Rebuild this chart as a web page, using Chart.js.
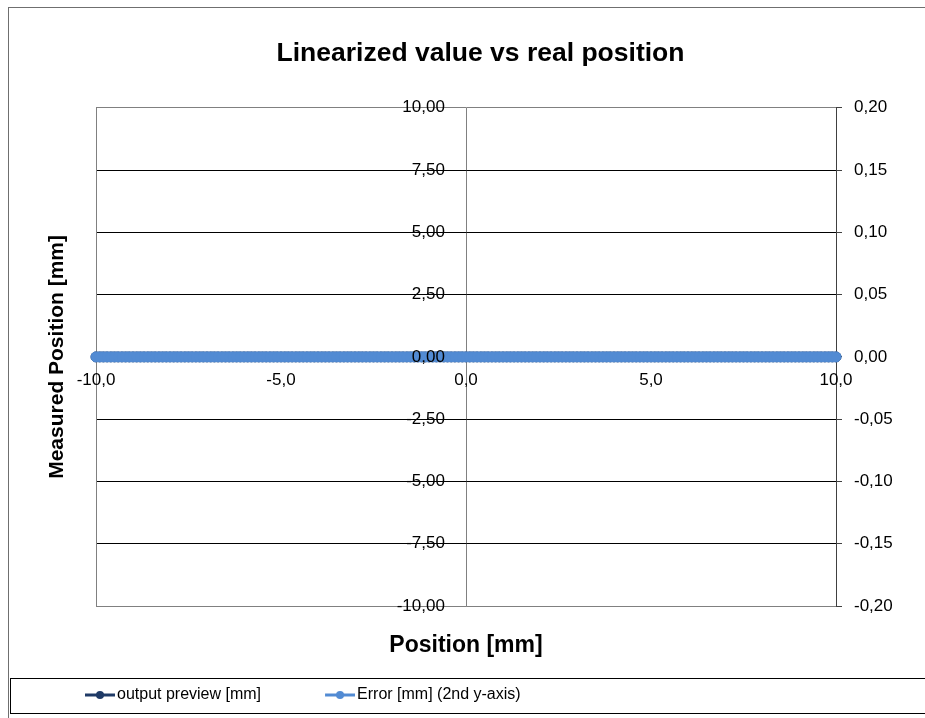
<!DOCTYPE html>
<html>
<head>
<meta charset="utf-8">
<title>Linearized value vs real position</title>
<script src="https://cdn.jsdelivr.net/npm/chart.js@4.4.1/dist/chart.umd.min.js"></script>
<style>
    html, body { margin: 0; padding: 0; background: #fff; overflow: hidden; }
    #wrap { width: 925px; height: 718px; overflow: hidden; }
    canvas { display: block; }
</style>
</head>
<body>
<div id="wrap"><canvas id="linChart" width="940" height="718"></canvas></div>
<script>
// real position [mm]
const positions = [
    -10.0, -9.9, -9.8, -9.7, -9.6, -9.5, -9.4, -9.3, -9.2, -9.1,
    -9.0, -8.9, -8.8, -8.7, -8.6, -8.5, -8.4, -8.3, -8.2, -8.1,
    -8.0, -7.9, -7.8, -7.7, -7.6, -7.5, -7.4, -7.3, -7.2, -7.1,
    -7.0, -6.9, -6.8, -6.7, -6.6, -6.5, -6.4, -6.3, -6.2, -6.1,
    -6.0, -5.9, -5.8, -5.7, -5.6, -5.5, -5.4, -5.3, -5.2, -5.1,
    -5.0, -4.9, -4.8, -4.7, -4.6, -4.5, -4.4, -4.3, -4.2, -4.1,
    -4.0, -3.9, -3.8, -3.7, -3.6, -3.5, -3.4, -3.3, -3.2, -3.1,
    -3.0, -2.9, -2.8, -2.7, -2.6, -2.5, -2.4, -2.3, -2.2, -2.1,
    -2.0, -1.9, -1.8, -1.7, -1.6, -1.5, -1.4, -1.3, -1.2, -1.1,
    -1.0, -0.9, -0.8, -0.7, -0.6, -0.5, -0.4, -0.3, -0.2, -0.1,
    0.0, 0.1, 0.2, 0.3, 0.4, 0.5, 0.6, 0.7, 0.8, 0.9,
    1.0, 1.1, 1.2, 1.3, 1.4, 1.5, 1.6, 1.7, 1.8, 1.9,
    2.0, 2.1, 2.2, 2.3, 2.4, 2.5, 2.6, 2.7, 2.8, 2.9,
    3.0, 3.1, 3.2, 3.3, 3.4, 3.5, 3.6, 3.7, 3.8, 3.9,
    4.0, 4.1, 4.2, 4.3, 4.4, 4.5, 4.6, 4.7, 4.8, 4.9,
    5.0, 5.1, 5.2, 5.3, 5.4, 5.5, 5.6, 5.7, 5.8, 5.9,
    6.0, 6.1, 6.2, 6.3, 6.4, 6.5, 6.6, 6.7, 6.8, 6.9,
    7.0, 7.1, 7.2, 7.3, 7.4, 7.5, 7.6, 7.7, 7.8, 7.9,
    8.0, 8.1, 8.2, 8.3, 8.4, 8.5, 8.6, 8.7, 8.8, 8.9,
    9.0, 9.1, 9.2, 9.3, 9.4, 9.5, 9.6, 9.7, 9.8, 9.9,
    10.0
];

// output preview [mm] (left axis)
const outputPreview = [
    0, 0, 0, 0, 0, 0, 0, 0, 0, 0,
    0, 0, 0, 0, 0, 0, 0, 0, 0, 0,
    0, 0, 0, 0, 0, 0, 0, 0, 0, 0,
    0, 0, 0, 0, 0, 0, 0, 0, 0, 0,
    0, 0, 0, 0, 0, 0, 0, 0, 0, 0,
    0, 0, 0, 0, 0, 0, 0, 0, 0, 0,
    0, 0, 0, 0, 0, 0, 0, 0, 0, 0,
    0, 0, 0, 0, 0, 0, 0, 0, 0, 0,
    0, 0, 0, 0, 0, 0, 0, 0, 0, 0,
    0, 0, 0, 0, 0, 0, 0, 0, 0, 0,
    0, 0, 0, 0, 0, 0, 0, 0, 0, 0,
    0, 0, 0, 0, 0, 0, 0, 0, 0, 0,
    0, 0, 0, 0, 0, 0, 0, 0, 0, 0,
    0, 0, 0, 0, 0, 0, 0, 0, 0, 0,
    0, 0, 0, 0, 0, 0, 0, 0, 0, 0,
    0, 0, 0, 0, 0, 0, 0, 0, 0, 0,
    0, 0, 0, 0, 0, 0, 0, 0, 0, 0,
    0, 0, 0, 0, 0, 0, 0, 0, 0, 0,
    0, 0, 0, 0, 0, 0, 0, 0, 0, 0,
    0, 0, 0, 0, 0, 0, 0, 0, 0, 0,
    0
];

// Error [mm] (2nd y-axis)
const errorValues = [
    0, 0, 0, 0, 0, 0, 0, 0, 0, 0,
    0, 0, 0, 0, 0, 0, 0, 0, 0, 0,
    0, 0, 0, 0, 0, 0, 0, 0, 0, 0,
    0, 0, 0, 0, 0, 0, 0, 0, 0, 0,
    0, 0, 0, 0, 0, 0, 0, 0, 0, 0,
    0, 0, 0, 0, 0, 0, 0, 0, 0, 0,
    0, 0, 0, 0, 0, 0, 0, 0, 0, 0,
    0, 0, 0, 0, 0, 0, 0, 0, 0, 0,
    0, 0, 0, 0, 0, 0, 0, 0, 0, 0,
    0, 0, 0, 0, 0, 0, 0, 0, 0, 0,
    0, 0, 0, 0, 0, 0, 0, 0, 0, 0,
    0, 0, 0, 0, 0, 0, 0, 0, 0, 0,
    0, 0, 0, 0, 0, 0, 0, 0, 0, 0,
    0, 0, 0, 0, 0, 0, 0, 0, 0, 0,
    0, 0, 0, 0, 0, 0, 0, 0, 0, 0,
    0, 0, 0, 0, 0, 0, 0, 0, 0, 0,
    0, 0, 0, 0, 0, 0, 0, 0, 0, 0,
    0, 0, 0, 0, 0, 0, 0, 0, 0, 0,
    0, 0, 0, 0, 0, 0, 0, 0, 0, 0,
    0, 0, 0, 0, 0, 0, 0, 0, 0, 0,
    0
];

const xTickValues = [-10, -5, 0, 5, 10];
const xTickLabels = ['-10,0', '-5,0', '0,0', '5,0', '10,0'];
const leftTickValues = [-10, -7.5, -5, -2.5, 0, 2.5, 5, 7.5, 10];
const leftTickLabels = ['-10,00', '-7,50', '-5,00', '-2,50', '0,00', '2,50', '5,00', '7,50', '10,00'];
const rightTickValues = [-0.2, -0.15, -0.1, -0.05, 0, 0.05, 0.1, 0.15, 0.2];
const rightTickLabels = ['-0,20', '-0,15', '-0,10', '-0,05', '0,00', '0,05', '0,10', '0,15', '0,20'];

const navy = '#1F3A66';
const lightBlue = '#528BD3';
const frameGrey = '#808080';
const axisDark = '#404040';

Chart.defaults.font.family = "'Liberation Sans', Arial, sans-serif";
Chart.defaults.color = '#000';

function toPoints(values) {
    return positions.map((x, i) => ({ x: x, y: values[i] }));
}

// legend symbol: short line with a dot, sitting at the right end of a wide box
function legendSymbol(color) {
    const c = document.createElement('canvas');
    c.width = 90;
    c.height = 16;
    const g = c.getContext('2d');
    g.strokeStyle = color;
    g.lineWidth = 3;
    g.beginPath();
    g.moveTo(60, 8);
    g.lineTo(90, 8);
    g.stroke();
    g.fillStyle = color;
    g.beginPath();
    g.arc(75, 8, 4, 0, Math.PI * 2);
    g.fill();
    return c;
}
const symbols = [legendSymbol(navy), legendSymbol(lightBlue)];

const fixTicks = values => scale => {
    scale.ticks = values.map(v => ({ value: v }));
};

// outer chart frame and legend box
const framePlugin = {
    id: 'frame',
    afterDraw(chart) {
        const ctx = chart.ctx;
        const lg = chart.legend;
        ctx.save();
        ctx.lineWidth = 1;
        ctx.strokeStyle = '#6f6f6f';
        ctx.strokeRect(8.5, 7.5, chart.width, chart.height);
        ctx.strokeStyle = '#000';
        ctx.strokeRect(10.5, lg.top + 1.5, chart.width, lg.bottom - lg.top - 1);
        ctx.restore();
    }
};

const ctxLin = document.getElementById('linChart');
const linChart = new Chart(ctxLin, {
    type: 'scatter',
    data: {
        datasets: [{
            label: 'output preview [mm]',
            data: toPoints(outputPreview),
            xAxisID: 'x',
            yAxisID: 'y',
            showLine: true,
            borderColor: navy,
            backgroundColor: navy,
            borderWidth: 2.5,
            pointRadius: 5,
            pointBorderWidth: 1,
            clip: false,
            order: 2
        }, {
            label: 'Error [mm] (2nd y-axis)',
            data: toPoints(errorValues),
            xAxisID: 'x',
            yAxisID: 'y2',
            showLine: true,
            borderColor: lightBlue,
            backgroundColor: lightBlue,
            borderWidth: 2.5,
            pointRadius: 5,
            pointBorderWidth: 1,
            clip: false,
            order: 1
        }]
    },
    options: {
        responsive: false,
        animation: false,
        events: [],
        layout: {
            padding: { left: 21, right: 0, top: 0, bottom: 5 }
        },
        plugins: {
            title: {
                display: true,
                text: 'Linearized value vs real position',
                color: '#000',
                font: { size: 26.5, weight: 'bold' },
                padding: { top: 38, bottom: 38 }
            },
            legend: {
                position: 'bottom',
                align: 'start',
                labels: {
                    usePointStyle: true,
                    pointStyleWidth: 78,
                    padding: 10,
                    color: '#000',
                    font: { size: 16 },
                    sort: (a, b) => a.datasetIndex - b.datasetIndex,
                    generateLabels: chart => Chart.defaults.plugins.legend.labels.generateLabels(chart)
                        .map(item => Object.assign(item, { pointStyle: symbols[item.datasetIndex] }))
                }
            },
            tooltip: { enabled: false }
        },
        scales: {
            x: {
                type: 'linear',
                position: 'bottom',
                min: -10,
                max: 10,
                afterBuildTicks: fixTicks(xTickValues),
                afterFit: s => { s.height = 71; },
                ticks: { display: false },
                // only the line at x = 0 is shown (the crossing vertical axis)
                grid: {
                    drawTicks: false,
                    color: c => (c.tick && c.tick.value === 0) ? frameGrey : 'rgba(0,0,0,0)'
                },
                border: { color: frameGrey },
                title: {
                    display: true,
                    text: 'Position [mm]',
                    color: '#000',
                    font: { size: 23, weight: 'bold' },
                    padding: { top: 0, bottom: 18 }
                }
            },
            xMid: {
                type: 'linear',
                axis: 'x',
                position: { y: 0 },
                min: -10,
                max: 10,
                afterBuildTicks: fixTicks(xTickValues),
                afterFit: s => { s.height = 0; },
                grid: { display: false, drawTicks: false },
                border: { display: false },
                ticks: {
                    z: 1,
                    font: { size: 17 },
                    padding: 13,
                    maxRotation: 0,
                    autoSkip: false,
                    callback: (v, i) => xTickLabels[i]
                }
            },
            y: {
                type: 'linear',
                position: 'left',
                min: -10,
                max: 10,
                afterBuildTicks: fixTicks(leftTickValues),
                afterFit: s => { s.width = 75; },
                ticks: { display: false },
                grid: {
                    drawTicks: false,
                    color: c => (c.tick && Math.abs(c.tick.value) === 10) ? frameGrey : '#000'
                },
                border: { color: frameGrey },
                title: {
                    display: true,
                    text: 'Measured Position [mm]',
                    color: '#000',
                    font: { size: 21, weight: 'bold' },
                    padding: { top: 24, bottom: 0 }
                }
            },
            // tick labels of the primary y axis, set just left of x = 0, drawn above the data
            yMid: {
                type: 'linear',
                axis: 'y',
                position: { x: -0.57 },
                min: -10,
                max: 10,
                afterBuildTicks: fixTicks(leftTickValues),
                afterFit: s => { s.width = 0; },
                grid: { display: false, drawTicks: false },
                border: { display: false },
                ticks: {
                    z: 1,
                    font: { size: 17 },
                    autoSkip: false,
                    callback: (v, i) => leftTickLabels[i]
                }
            },
            y2: {
                type: 'linear',
                position: 'right',
                min: -0.2,
                max: 0.2,
                afterBuildTicks: fixTicks(rightTickValues),
                afterFit: s => { s.width = 104; },
                grid: { drawOnChartArea: false, drawTicks: true, tickLength: 6, color: axisDark },
                border: { color: axisDark },
                ticks: {
                    font: { size: 17 },
                    padding: 12,
                    autoSkip: false,
                    callback: (v, i) => rightTickLabels[i]
                }
            }
        }
    },
    plugins: [framePlugin]
});
</script>
</body>
</html>
